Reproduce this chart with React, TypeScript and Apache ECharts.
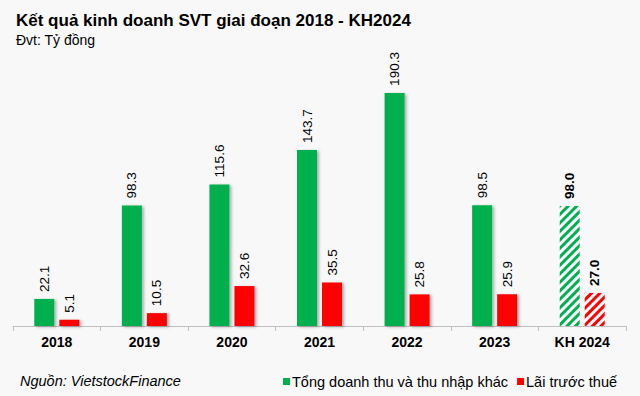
import React, { useEffect, useRef } from "react";
import * as echarts from "echarts";

const categories = ["2018", "2019", "2020", "2021", "2022", "2023", "KH 2024"];
const revenue = [22.1, 98.3, 115.6, 143.7, 190.3, 98.5, 98.0];
const profit = [5.1, 10.5, 32.6, 35.5, 25.8, 25.9, 27.0];
const seriesNames = ["Tổng doanh thu và thu nhập khác", "Lãi trước thuế"];
const GREEN = "#00b050";
const RED = "#ff0000";
const FONT = "Arial, Liberation Sans, sans-serif";

function buildData(values: number[], color: string) {
  return values.map((v, i) => {
    const isPlan = i === values.length - 1;
    return isPlan
      ? {
          value: v,
          itemStyle: {
            color: "#ffffff",
            shadowColor: "rgba(0,0,0,0)",
            shadowBlur: 0,
            shadowOffsetX: 0,
            shadowOffsetY: 0,
            decal: {
              symbol: "rect",
              color: color,
              dashArrayX: [1, 0],
              dashArrayY: [2.5, 3],
              rotation: -Math.PI / 4,
              symbolSize: 1,
            },
          },
          label: { fontWeight: "bold" },
        }
      : { value: v };
  });
}

export default function App() {
  const ref = useRef<HTMLDivElement>(null);
  useEffect(() => {
    const chart = echarts.init(ref.current!, null, { renderer: "svg" });
    const labelCommon = {
      show: true,
      position: "top",
      rotate: 90,
      align: "left",
      verticalAlign: "middle",
      distance: 7,
      color: "#000",
      fontSize: 13.5,
      fontFamily: FONT,
      formatter: (p: any) => Number(p.value).toFixed(1),
    };
    const shadow = {
      shadowColor: "rgba(0,0,0,0.3)",
      shadowBlur: 3,
      shadowOffsetX: 2,
      shadowOffsetY: 1,
    };
    chart.setOption({
      animation: false,
      backgroundColor: "#f8f8f8",
      title: [
        {
          text: "Kết quả kinh doanh SVT giai đoạn 2018 - KH2024",
          left: 11,
          top: 7,
          textStyle: { fontSize: 17, fontWeight: "bold", color: "#000", fontFamily: FONT },
        },
        {
          text: "Đvt: Tỷ đồng",
          left: 11,
          top: 28,
          textStyle: { fontSize: 14, fontWeight: "normal", color: "#000", fontFamily: FONT },
        },
        {
          text: "Nguồn: VietstockFinance",
          left: 15,
          top: 368,
          textStyle: {
            fontSize: 14.5,
            fontWeight: "normal",
            fontStyle: "italic",
            color: "#000",
            fontFamily: FONT,
          },
        },
      ],
      legend: {
        data: seriesNames,
        left: 278,
        top: 369,
        icon: "rect",
        itemWidth: 7,
        itemHeight: 7,
        itemGap: 9,
        textStyle: { fontSize: 14.5, color: "#000", padding: [0, 0, 0, -3], fontFamily: FONT },
      },
      grid: { left: 13, right: 14, top: 81, bottom: 70, containLabel: false },
      xAxis: {
        type: "category",
        data: categories,
        axisLine: { show: true, lineStyle: { color: "#bfbfbf", width: 1 } },
        axisTick: { show: true, length: 5, lineStyle: { color: "#bfbfbf" } },
        axisLabel: { color: "#000", fontSize: 14, fontWeight: "bold", margin: 9, fontFamily: FONT },
      },
      yAxis: { type: "value", min: 0, max: 200, show: false, splitLine: { show: false } },
      series: [
        {
          name: seriesNames[0],
          type: "bar",
          data: buildData(revenue, GREEN),
          barWidth: 20,
          barGap: "25%",
          itemStyle: { color: GREEN, ...shadow },
          label: labelCommon,
        },
        {
          name: seriesNames[1],
          type: "bar",
          data: buildData(profit, RED),
          barWidth: 20,
          itemStyle: { color: RED, ...shadow },
          label: labelCommon,
        },
      ],
    });
    return () => chart.dispose();
  }, []);
  return <div ref={ref} style={{ width: 640, height: 396, position: "fixed", left: 0, top: 0 }} />;
}
